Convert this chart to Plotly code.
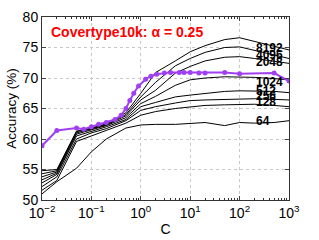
import plotly.graph_objects as go
import numpy as np

# ---- data ----
C_grid = [0.01, 0.02, 0.05, 0.1, 0.2, 0.5, 1, 2, 5, 10, 20, 50, 100, 200, 500, 1000]
acc_8192 = [54.8, 55.0, 61.3, 61.8, 62.5, 64.3, 67.5, 70.9, 72.8, 74.3, 75.3, 76.3, 76.6, 76.0, 75.2, 74.6]
acc_4096 = [54.3, 54.8, 61.2, 61.7, 62.4, 64.0, 66.9, 69.3, 72.0, 73.2, 74.2, 75.0, 75.1, 74.5, 73.7, 73.2]
acc_2048 = [53.8, 54.6, 61.0, 61.6, 62.3, 63.8, 66.4, 68.0, 70.8, 71.9, 72.8, 73.4, 73.5, 73.2, 72.7, 72.4]
acc_1024 = [53.3, 54.4, 60.8, 61.5, 62.2, 63.5, 65.8, 67.0, 68.8, 69.7, 70.0, 70.2, 70.2, 70.1, 69.9, 69.7]
acc_512 = [52.8, 54.2, 60.5, 61.3, 62.0, 63.2, 65.3, 66.0, 66.9, 67.2, 67.5, 67.8, 67.9, 67.9, 67.8, 67.6]
acc_256 = [52.2, 53.8, 60.0, 61.0, 61.7, 63.0, 64.7, 65.3, 65.9, 66.3, 66.4, 66.5, 66.6, 66.6, 66.5, 66.4]
acc_128 = [51.6, 53.2, 59.6, 60.5, 61.3, 62.6, 63.9, 64.5, 65.0, 65.3, 65.5, 65.6, 65.6, 65.7, 65.5, 65.3]
acc_64 = [51.0, 53.0, 55.2, 57.9, 60.0, 61.8, 62.3, 62.4, 62.4, 62.5, 62.7, 62.2, 62.7, 62.6, 62.7, 63.0]

series_names = ["8192", "4096", "2048", "1024", "512", "256", "128", "64"]
series_vals = [acc_8192, acc_4096, acc_2048, acc_1024, acc_512, acc_256, acc_128, acc_64]

C_alpha = [0.01, 0.02, 0.05, 0.07, 0.1, 0.14, 0.2, 0.3, 0.4, 0.5, 0.6, 0.72, 0.9, 1.25, 1.6, 2.1,
           3, 4, 6, 7.5, 10, 15, 20, 50, 100, 500, 1000]
acc_alpha = [58.9, 61.4, 61.8, 61.6, 62.0, 62.4, 62.7, 63.2, 63.9, 65.0, 66.3, 67.5, 68.7, 69.8, 70.3, 70.6,
             70.8, 70.9, 70.9, 70.9, 70.9, 70.8, 70.8, 70.9, 70.7, 70.8, 69.5]

x_ticks = [0.01, 0.1, 1, 10, 100, 1000]
x_ticktext = ["10<sup>\u22122</sup>", "10<sup>\u22121</sup>", "10<sup>0</sup>",
              "10<sup>1</sup>", "10<sup>2</sup>", "10<sup>3</sup>"]
y_ticks = [50, 55, 60, 65, 70, 75, 80]

FONT = "Liberation Sans, Arial"

# ---- figure ----
fig = go.Figure()
for name, vals in zip(series_names, series_vals):
    fig.add_trace(go.Scatter(x=C_grid, y=vals, mode="lines",
                             line=dict(color="black", width=1), name=name, showlegend=False))

fig.add_trace(go.Scatter(x=C_alpha, y=acc_alpha, mode="lines+markers",
                         line=dict(color="#a040f0", width=2),
                         marker=dict(color="#a040f0", size=5), showlegend=False))

label_pos = {"8192": 74.9, "4096": 73.8, "2048": 72.7, "1024": 69.4,
             "512": 67.8, "256": 67.0, "128": 66.1, "64": 63.0}
for name in series_names:
    fig.add_annotation(x=np.log10(200), y=label_pos[name], text="<b>%s</b>" % name,
                       showarrow=False, xanchor="left", yanchor="middle",
                       font=dict(family=FONT, size=12, color="black"))

fig.add_annotation(x=0.03, y=0.92, xref="paper", yref="paper",
                   text="<b>Covertype10k: \u03b1 = 0.25</b>", showarrow=False,
                   xanchor="left", yanchor="middle",
                   font=dict(family=FONT, size=14, color="red"))

fig.update_xaxes(type="log", range=[-2, 3], tickmode="array", tickvals=x_ticks, ticktext=x_ticktext,
                 ticks="inside", ticklen=4, mirror="allticks", showline=True,
                 linecolor="#333", linewidth=1, automargin=False,
                 showgrid=True, gridcolor="#c8c8c8", griddash="dot", gridwidth=1,
                 minor=dict(ticks="inside", ticklen=2, tickcolor="#333", showgrid=False,
                            tickvals=[m * 10.0 ** e for e in range(-2, 3) for m in range(2, 10)]),
                 tickfont=dict(family=FONT, size=14, color="black"),
                 title=dict(text="C", font=dict(family=FONT, size=14, color="black"),
                            standoff=4),
                 zeroline=False)
fig.update_yaxes(range=[50, 80], tickvals=y_ticks,
                 ticks="inside", ticklen=4, mirror="allticks", showline=True,
                 linecolor="#333", linewidth=1, automargin=False,
                 showgrid=True, gridcolor="#c8c8c8", griddash="dot", gridwidth=1,
                 tickfont=dict(family=FONT, size=14, color="black"),
                 title=dict(text="Accuracy (%)", font=dict(family=FONT, size=13.5, color="black"),
                            standoff=2),
                 zeroline=False)

fig.update_layout(width=319, height=240, margin=dict(l=42, r=30, t=17, b=40, autoexpand=False),
                  plot_bgcolor="white", paper_bgcolor="white")

fig.write_html("out.html", config={"displayModeBar": False},
               post_script="document.body.style.margin='0';document.body.style.overflow='hidden';")
